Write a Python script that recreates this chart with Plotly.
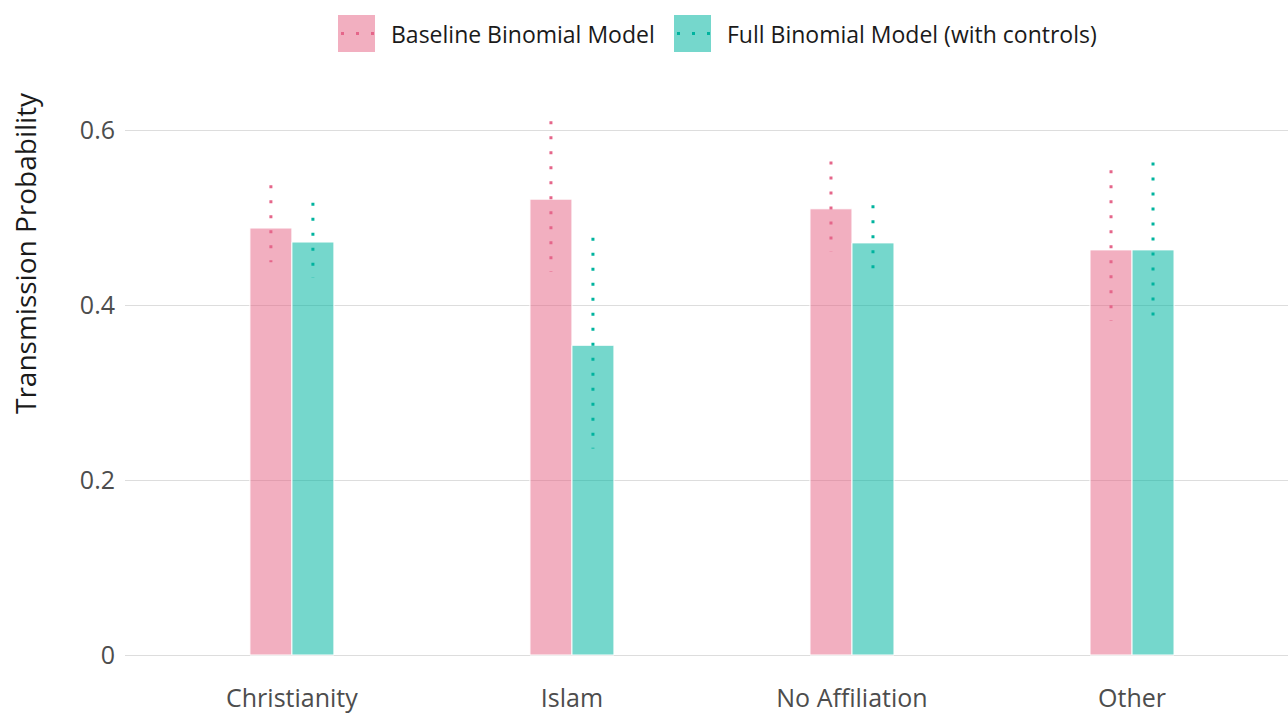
import plotly.graph_objects as go

categories = ["Christianity", "Islam", "No Affiliation", "Other"]
series_names = ["Baseline Binomial Model", "Full Binomial Model (with controls)"]

baseline_est = [0.488, 0.521, 0.510, 0.463]
baseline_low = [0.449, 0.438, 0.461, 0.382]
baseline_high = [0.537, 0.610, 0.564, 0.554]

full_est = [0.472, 0.354, 0.471, 0.463]
full_low = [0.431, 0.236, 0.430, 0.375]
full_high = [0.517, 0.477, 0.514, 0.563]

y_ticks = [0, 0.2, 0.4, 0.6]
y_tick_text = ["0", "0.2", "0.4", "0.6"]
y_title = "Transmission Probability"

bar_fill = ["rgba(229,96,130,0.5)", "rgba(0,182,160,0.54)"]
dot_color = ["#E5668A", "#00B39E"]
offsets = [-0.075, 0.075]
bar_width = 0.15

FONT = "'Open Sans', Lato, sans-serif"
W, H = 1288, 713
L = 125

fig = go.Figure()
xs = list(range(len(categories)))

for k, (est, low, high) in enumerate([
    (baseline_est, baseline_low, baseline_high),
    (full_est, full_low, full_high),
]):
    fig.add_trace(go.Bar(
        x=[i + offsets[k] for i in xs],
        y=est,
        width=bar_width,
        marker=dict(color=bar_fill[k], line=dict(color="white", width=1)),
        name=series_names[k],
        showlegend=False,
    ))
    # dotted interval lines, drawn top-down so each starts with a full dot
    lx, ly = [], []
    for i in xs:
        lx += [i + offsets[k], i + offsets[k], None]
        ly += [high[i], low[i], None]
    fig.add_trace(go.Scatter(
        x=lx, y=ly, mode="lines",
        line=dict(color=dot_color[k], width=3, dash="3px,12px"),
        showlegend=False, hoverinfo="skip",
    ))


def px_x(p):
    return (p - L) / (W - L)


def px_y(p):
    return 1 - p / H


# legend drawn as wide swatches with a dotted stroke across each
legend_items = [(338, 391), (674, 727)]
shapes = []
annotations = []
for k, (sx, tx) in enumerate(legend_items):
    shapes.append(dict(type="rect", xref="paper", yref="paper",
                       x0=px_x(sx), x1=px_x(sx + 37), y0=px_y(52), y1=px_y(15),
                       fillcolor=bar_fill[k], line=dict(width=0), layer="above"))
    shapes.append(dict(type="line", xref="paper", yref="paper",
                       x0=px_x(sx + 3), x1=px_x(sx + 36),
                       y0=px_y(33.5), y1=px_y(33.5),
                       line=dict(color=dot_color[k], width=3, dash="3px,12px"),
                       layer="above"))
    annotations.append(dict(xref="paper", yref="paper", x=px_x(tx - 2), y=px_y(33.5),
                            xanchor="left", yanchor="middle", showarrow=False,
                            text=series_names[k],
                            font=dict(family=FONT, size=23, color="#1a1a1a")))

annotations.append(dict(xref="paper", yref="paper", x=px_x(25), y=px_y(253),
                        xanchor="center", yanchor="middle", showarrow=False,
                        textangle=-90, text=y_title,
                        font=dict(family=FONT, size=28, color="#1a1a1a")))

fig.update_layout(
    width=W, height=H,
    margin=dict(l=L, r=0, t=0, b=0),
    paper_bgcolor="white", plot_bgcolor="white",
    barmode="overlay",
    showlegend=False,
    shapes=shapes,
    annotations=annotations,
    font=dict(family=FONT),
)
fig.update_xaxes(
    range=[-0.596, 3.557],
    tickvals=xs, ticktext=categories,
    showgrid=False, zeroline=False, showline=False, ticks="",
    tickfont=dict(family=FONT, size=25, color="#4d4d4d"),
    ticklabelstandoff=11,
    domain=[0, 1],
)
fig.update_yaxes(
    range=[-0.01714, 0.7486],
    tickvals=y_ticks, ticktext=y_tick_text,
    showgrid=True, gridcolor="#DDDDDD", gridwidth=1,
    zeroline=False, showline=False, ticks="",
    tickfont=dict(family=FONT, size=25, color="#4d4d4d"),
    ticklabelstandoff=9,
    domain=[43 / H, 1.0],
)

fig.write_html("out.html")
